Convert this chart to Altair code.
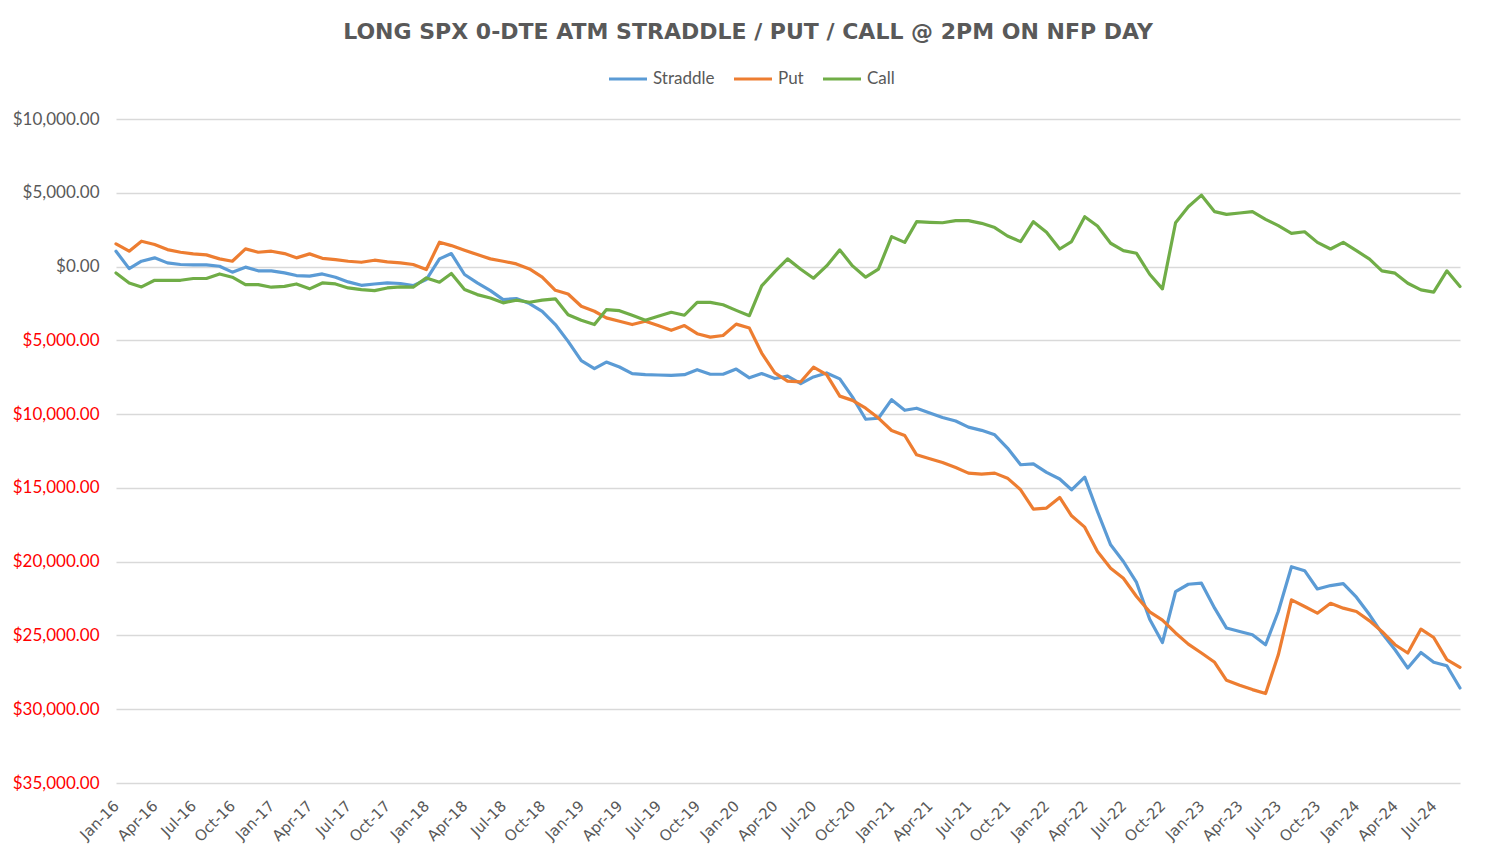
import altair as alt
import pandas as pd

# ---- data (monthly, Jan-16 .. Sep-24) ----
months = pd.date_range("2016-01-01", periods=105, freq="MS")

straddle = [
    1040, -140, 360, 590, 250, 140, 110, 110, 20, -380, -40, -290,
    -290, -430, -610, -650, -500, -720, -1040, -1270, -1180, -1110, -1150, -1290,
    -880, 520, 880, -540, -1110, -1630, -2240, -2170, -2510, -3030, -3930, -5070,
    -6380, -6920, -6470, -6810, -7260, -7330, -7350, -7370, -7330, -6990, -7300, -7300,
    -6950, -7540, -7250, -7590, -7430, -7930, -7480, -7210, -7610, -8850, -10350, -10280,
    -9020, -9740, -9600, -9920, -10230, -10470, -10880, -11100, -11400, -12300, -13430, -13370,
    -13950, -14400, -15130, -14270, -16600, -18860, -19990, -21410, -23900, -25480, -22030, -21530,
    -21460, -23150, -24500, -24730, -24950, -25630, -23380, -20340, -20610, -21850, -21620, -21490,
    -22410, -23600, -24840, -25970, -27210, -26150, -26820, -27050, -28560,
]

put = [
    1540, 1040, 1720, 1490, 1150, 970, 860, 790, 520, 360, 1200, 970,
    1040, 880, 590, 860, 560, 470, 360, 290, 430, 320, 250, 140,
    -200, 1650, 1420, 1110, 810, 520, 360, 180, -160, -720, -1610, -1860,
    -2690, -3030, -3480, -3710, -3930, -3710, -4000, -4320, -4000, -4550, -4780, -4670,
    -3900, -4170, -5860, -7210, -7770, -7810, -6820, -7320, -8780, -9070, -9600, -10270,
    -11110, -11450, -12760, -13030, -13280, -13620, -14000, -14070, -14000, -14340, -15130, -16440,
    -16370, -15650, -16890, -17660, -19310, -20440, -21120, -22360, -23400, -23960, -24830, -25590,
    -26190, -26820, -28040, -28380, -28670, -28940, -26310, -22590, -23040, -23490, -22820, -23150,
    -23380, -24010, -24730, -25630, -26190, -24570, -25140, -26640, -27160,
]

call = [
    -430, -1110, -1380, -930, -930, -930, -810, -810, -500, -720, -1220, -1220,
    -1400, -1340, -1180, -1510, -1110, -1180, -1450, -1560, -1630, -1450, -1380, -1400,
    -770, -1060, -470, -1560, -1900, -2130, -2460, -2280, -2420, -2280, -2190, -3260,
    -3640, -3930, -2920, -2990, -3300, -3640, -3370, -3100, -3300, -2420, -2430, -2590,
    -2970, -3330, -1310, -340, 520, -180, -790, 45, 1130, 45, -720, -180,
    2030, 1640, 3040, 3000, 2970, 3110, 3110, 2930, 2640, 2070, 1690, 3040,
    2320, 1190, 1690, 3380, 2750, 1580, 1080, 900, -520, -1510, 2970, 4050,
    4840, 3720, 3540, 3630, 3720, 3200, 2770, 2250, 2360, 1640, 1190, 1640,
    1080, 500, -290, -450, -1130, -1580, -1730, -290, -1350,
]

series_names = ["Straddle", "Put", "Call"]
series_colors = ["#5B9BD5", "#ED7D31", "#70AD47"]
y_ticks = [10000, 5000, 0, -5000, -10000, -15000, -20000, -25000, -30000, -35000]
title_text = "LONG SPX 0-DTE ATM STRADDLE / PUT / CALL @ 2PM ON NFP DAY"

frames = []
for name, vals in zip(series_names, [straddle, put, call]):
    frames.append(pd.DataFrame({"date": months, "value": vals, "series": name}))
df = pd.concat(frames, ignore_index=True)

GREY = "#595959"

chart = (
    alt.Chart(df)
    .mark_line(strokeWidth=3.2, strokeJoin="round", strokeCap="round")
    .encode(
        x=alt.X(
            "date:T",
            title=None,
            scale=alt.Scale(
                domain=[
                    alt.DateTime(year=2016, month=1, date=1),
                    alt.DateTime(year=2024, month=9, date=1),
                ]
            ),
            axis=alt.Axis(
                format="%b-%y",
                tickCount={"interval": "month", "step": 3},
                labelAngle=315,
                labelAlign="right",
                labelBaseline="middle",
                labelPadding=20,
                labelOverlap=False,
                labelBound=False,
                labelFlush=False,
                labelFont="DejaVu Sans",
                labelFontSize=15,
                labelColor=GREY,
                ticks=False,
                domain=False,
                grid=False,
            ),
        ),
        y=alt.Y(
            "value:Q",
            title=None,
            scale=alt.Scale(domain=[-35000, 10000], nice=False, zero=False),
            axis=alt.Axis(
                values=y_ticks,
                labelExpr='"$" + format(abs(datum.value), ",.2f")',
                labelColor={"expr": "datum.value < 0 ? '#FF0000' : '#595959'"},
                labelFont="Lato",
                labelFontSize=17,
                labelPadding=17,
                ticks=False,
                tickSize=0,
                domain=False,
                grid=True,
                gridColor="#D9D9D9",
                gridWidth=1.3,
            ),
        ),
        color=alt.Color(
            "series:N",
            scale=alt.Scale(domain=series_names, range=series_colors),
            legend=alt.Legend(
                title=None,
                orient="none",
                direction="horizontal",
                legendX=491,
                legendY=-61,
                symbolType="stroke",
                symbolSize=1444,
                symbolStrokeWidth=3.2,
                labelFont="Lato",
                labelFontSize=17,
                labelColor=GREY,
                labelOffset=4,
                columnPadding=12,
            ),
        ),
    )
    .properties(
        width=1344,
        height=664,
        autosize=alt.AutoSizeParams(type="none"),
        padding={"left": 108, "top": 111, "right": 28, "bottom": 62},
        title=alt.TitleParams(
            text=title_text,
            font="DejaVu Sans",
            fontSize=22,
            fontWeight="bold",
            color=GREY,
            anchor="middle",
            dx=-40,
            offset=14,
        ),
    )
    .configure_view(stroke=None)
)

chart.save("out.html", embed_options={"renderer": "svg", "actions": False})
